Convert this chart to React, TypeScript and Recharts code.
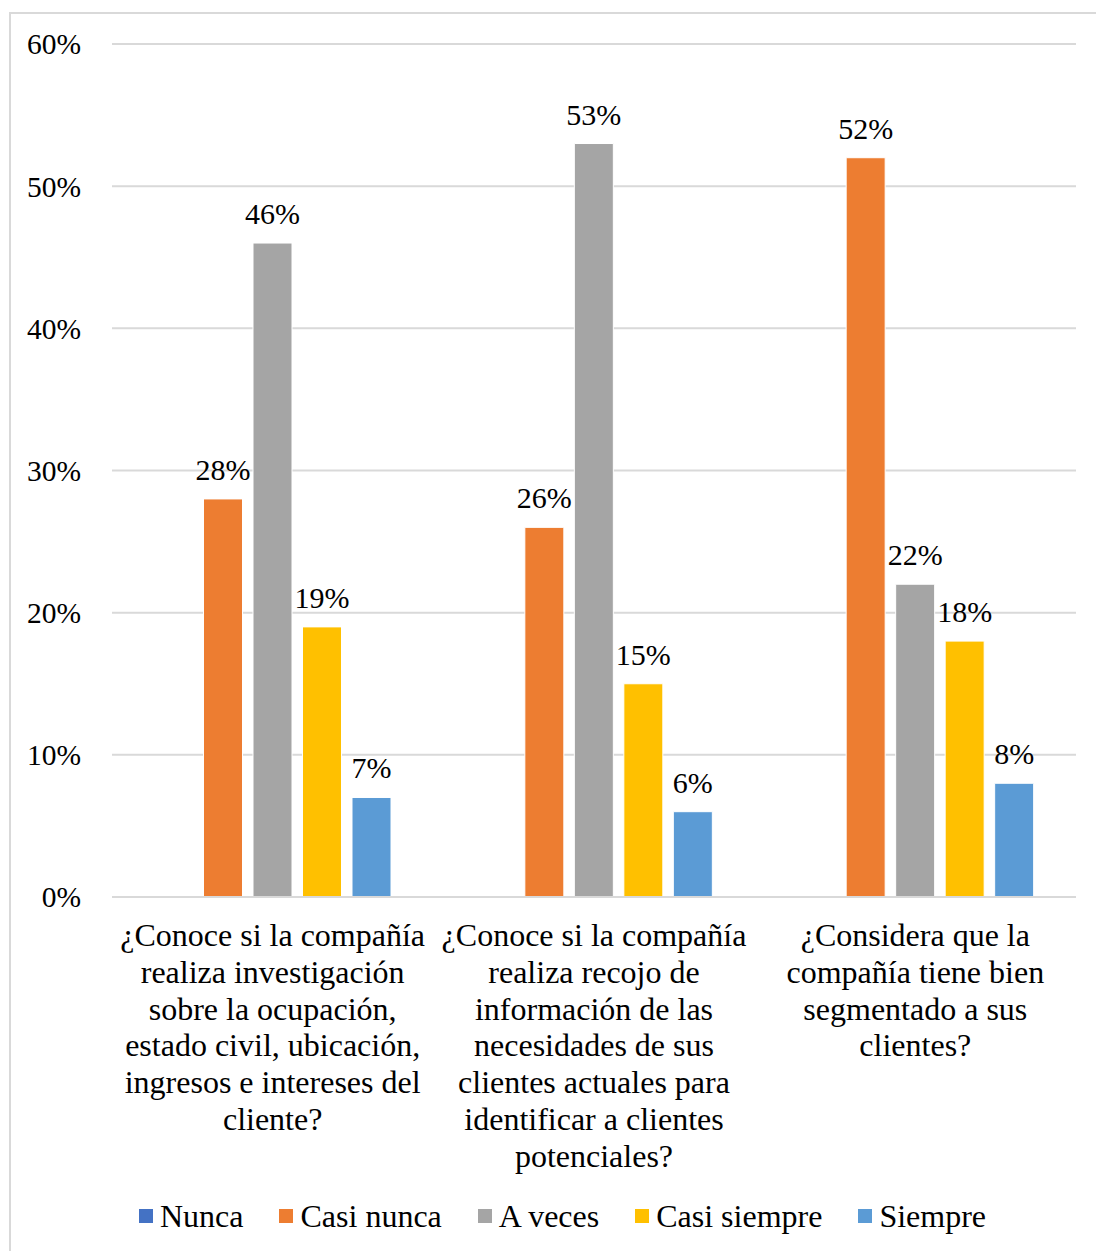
import React from 'react';
import { BarChart, Bar, XAxis, YAxis, CartesianGrid, Legend, LabelList } from 'recharts';

// Survey questions, one entry per line of the axis label
const questionLines: string[][] = [
  [
    '¿Conoce si la compañía',
    'realiza investigación',
    'sobre la ocupación,',
    'estado civil, ubicación,',
    'ingresos e intereses del',
    'cliente?',
  ],
  [
    '¿Conoce si la compañía',
    'realiza recojo de',
    'información de las',
    'necesidades de sus',
    'clientes actuales para',
    'identificar a clientes',
    'potenciales?',
  ],
  ['¿Considera que la', 'compañía tiene bien', 'segmentado a sus', 'clientes?'],
];

const seriesNames = ['Nunca', 'Casi nunca', 'A veces', 'Casi siempre', 'Siempre'];
const seriesColors = ['#4472C4', '#ED7D31', '#A5A5A5', '#FFC000', '#5B9BD5'];

// percentages per question
const nunca = [0, 0, 0];
const casiNunca = [28, 26, 52];
const aVeces = [46, 53, 22];
const casiSiempre = [19, 15, 18];
const siempre = [7, 6, 8];

const yTicks = [0, 10, 20, 30, 40, 50, 60];

const seriesValues = [nunca, casiNunca, aVeces, casiSiempre, siempre];

const data = questionLines.map((lines, i) => {
  const row: Record<string, string | number> = { question: lines.join(' ') };
  seriesNames.forEach((name, s) => {
    row[name] = seriesValues[s][i];
  });
  return row;
});

const FONT = '"Liberation Serif", "Times New Roman", serif';
const TICK_SIZE = 29.5;
const LABEL_SIZE = 30;
const TEXT_SIZE = 32;
const LINE_HEIGHT = 36.8;

const QuestionTick = (props: any) => {
  const { x, y, payload } = props;
  const lines = questionLines[payload.index] || [];
  return (
    <text x={x} y={y} textAnchor="middle" fontFamily={FONT} fontSize={TEXT_SIZE} fill="#000">
      {lines.map((line, i) => (
        <tspan key={i} x={x} dy={i === 0 ? 49 : LINE_HEIGHT}>
          {line}
        </tspan>
      ))}
    </text>
  );
};

const LegendContent = () => (
  <div
    style={{
      display: 'flex',
      justifyContent: 'center',
      alignItems: 'center',
      height: 40,
      paddingLeft: 49,
      fontFamily: FONT,
      fontSize: TEXT_SIZE,
      color: '#000',
    }}
  >
    {seriesNames.map((name, i) => (
      <div key={name} style={{ display: 'flex', alignItems: 'center', marginRight: i < seriesNames.length - 1 ? 36 : 0 }}>
        <span style={{ width: 14, height: 14, background: seriesColors[i], display: 'inline-block', marginRight: 7 }} />
        <span>{name}</span>
      </div>
    ))}
  </div>
);

const fmtLabel = (v: any) => (v === 0 ? '' : `${v}%`);

export default function App() {
  return (
    <div style={{ position: 'absolute', left: 0, top: 0, width: 1096, height: 1251, background: '#fff' }}>
      <div
        style={{
          position: 'absolute',
          left: 9,
          top: 12,
          width: 1085,
          height: 1237,
          border: '2px solid #D9D9D9',
        }}
      />
      <div style={{ position: 'absolute', left: 0, top: 0 }}>
        <BarChart
          width={1096}
          height={1251}
          data={data}
          margin={{ top: 44, right: 20, bottom: 15, left: 0 }}
          barSize={39}
          barGap={10.5}
        >
          <CartesianGrid vertical={false} stroke="#D9D9D9" strokeWidth={2} />
          <XAxis
            dataKey="question"
            height={299}
            tickSize={0}
            tickMargin={0}
            axisLine={{ stroke: '#D9D9D9', strokeWidth: 2 }}
            tick={<QuestionTick />}
            interval={0}
          />
          <YAxis
            width={112}
            domain={[0, 60]}
            ticks={yTicks}
            tickFormatter={(v: number) => `${v}%`}
            tickSize={0}
            tickMargin={31}
            axisLine={false}
            tick={{ fontFamily: FONT, fontSize: TICK_SIZE, fill: '#000' }}
          />
          <Legend verticalAlign="bottom" height={40} content={<LegendContent />} />
          {seriesNames.map((name, i) => (
            <Bar key={name} dataKey={name} fill={seriesColors[i]} stroke="#fff" strokeWidth={1} isAnimationActive={false}>
              <LabelList
                dataKey={name}
                position="top"
                offset={19}
                formatter={fmtLabel}
                style={{ fontFamily: FONT, fontSize: LABEL_SIZE, fill: '#000' }}
              />
            </Bar>
          ))}
        </BarChart>
      </div>
    </div>
  );
}
